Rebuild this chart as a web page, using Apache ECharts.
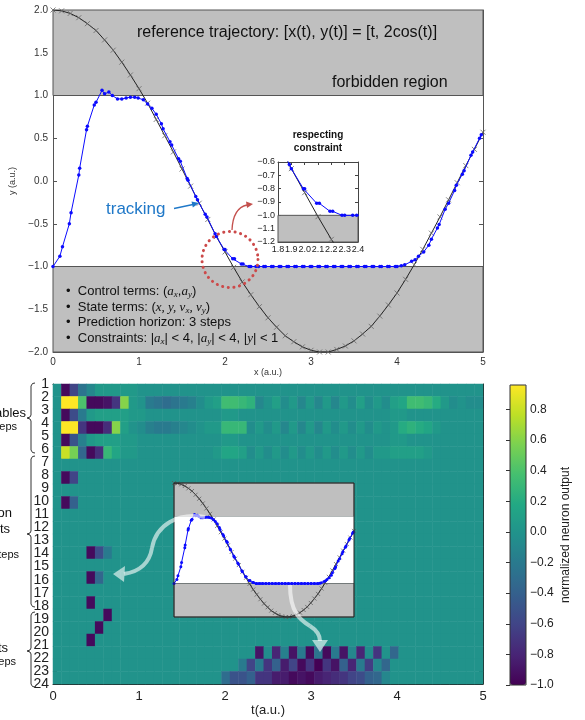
<!DOCTYPE html>
<html><head><meta charset="utf-8">
<script src="https://cdn.jsdelivr.net/npm/echarts@6/dist/echarts.min.js"></script>
<style>html,body{margin:0;padding:0;background:#fff}#c{width:585px;height:720px}</style>
</head><body><div id="c"></div>
<script>
// ---------------- DATA ----------------
// reference trajectory samples (t, 2cos t)
const refT = [0.0,0.1,0.2,0.3,0.4,0.5,0.6,0.7,0.8,0.9,1.0,1.1,1.2,1.3,1.4,1.5,1.6,1.7,1.8,1.9,2.0,2.1,2.2,2.3,2.4,2.5,2.6,2.7,2.8,2.9,3.0,3.1,3.2,3.3,3.4,3.5,3.6,3.7,3.8,3.9,4.0,4.1,4.2,4.3,4.4,4.5,4.6,4.7,4.8,4.9,5.0];
const refY = [2.00,1.99,1.96,1.91,1.84,1.76,1.65,1.53,1.39,1.24,1.08,0.91,0.72,0.53,0.34,0.14,-0.06,-0.26,-0.45,-0.65,-0.83,-1.01,-1.18,-1.33,-1.47,-1.60,-1.71,-1.81,-1.88,-1.94,-1.98,-2.00,-2.00,-1.97,-1.93,-1.87,-1.79,-1.70,-1.58,-1.45,-1.31,-1.15,-0.98,-0.80,-0.61,-0.42,-0.22,-0.02,0.18,0.37,0.57];
// tracking (blue) samples
const trackX = [0.00,0.08,0.11,0.19,0.21,0.30,0.31,0.39,0.40,0.48,0.50,0.57,0.60,0.65,0.69,0.75,0.80,0.85,0.90,0.95,0.99,
  1.05,1.10,1.15,1.20,1.26,1.28,1.36,1.38,1.46,1.48,1.56,1.57,1.66,1.68,1.77,1.79,
  1.885,1.90,1.99,2.00,2.09,2.11,2.19,2.21,2.28,2.30,2.36,2.39,
  2.45,2.47,2.54,2.56,2.63,2.65,2.72,2.74,2.81,2.83,2.90,2.92,2.99,3.01,3.08,3.10,3.17,3.19,3.26,3.28,3.35,3.37,3.44,3.46,3.53,3.55,3.62,3.64,3.71,3.73,3.80,3.82,3.89,3.91,3.98,4.00,
  4.05,4.09,4.17,4.21,4.25,4.31,4.37,4.40,4.47,4.49,4.56,4.60,4.67,4.69,4.76,4.78,4.86,4.88,4.96,4.98];
const trackY = [-1.00,-0.88,-0.77,-0.50,-0.37,0.07,0.15,0.60,0.64,0.89,0.92,1.06,1.02,1.04,1.00,0.96,0.96,0.97,0.98,0.98,0.97,
  0.95,0.90,0.85,0.78,0.67,0.61,0.46,0.42,0.26,0.23,0.03,0.01,-0.18,-0.22,-0.39,-0.42,
  -0.618,-0.65,-0.80,-0.80,-0.91,-0.91,-0.97,-0.97,-1.0,-1.0,-1.0,-1.0,
  -1.0,-1.0,-1.0,-1.0,-1.0,-1.0,-1.0,-1.0,-1.0,-1.0,-1.0,-1.0,-1.0,-1.0,-1.0,-1.0,-1.0,-1.0,-1.0,-1.0,-1.0,-1.0,-1.0,-1.0,-1.0,-1.0,-1.0,-1.0,-1.0,-1.0,-1.0,-1.0,-1.0,-1.0,-1.0,-1.0,
  -0.99,-0.98,-0.94,-0.92,-0.88,-0.83,-0.75,-0.68,-0.55,-0.51,-0.33,-0.26,-0.11,-0.05,0.08,0.12,0.30,0.34,0.50,0.54];
// forbidden bands (y ranges)
const forbiddenBands = [[1, 2], [-2, -1]];
const insetForbidden = [[-1.2, -1.0]];
// heat map: 24 neuron rows x 51 time columns (t = 0 .. 5)
const rowLabels = ['1','2','3','4','5','6','7','8','9','10','11','12','13','14','15','16','17','18','19','20','21','22','23','24'];
const heatRows = [
 [0,-0.95,-0.6,-0.25,-0.1,0.05,0.05,0.05,0.05,0.05, 0,0,0,0,0,0,0,0,0,0, 0,0,0,0,0,0,0,0,0,0, 0,0,0,0,0,0,0,0,0,0, 0,0,0,0,0,0,0,0,0,0, 0],
 [0,0.96,0.96,0.4,-0.95,-0.95,-0.9,-0.7,0.6,0.05, 0,-0.2,-0.25,-0.3,-0.25,-0.2,-0.15,-0.05,0.05,0.1, 0.35,0.35,0.3,0.25,-0.1,0,0.1,-0.05,0.05,-0.1, 0.05,-0.1,0.05,-0.1,0.05,-0.05,0.1,-0.05,0.05,-0.05, 0.1,0.15,0.35,0.35,0.3,0.2,0.05,-0.05,0,-0.05, -0.05],
 [0,-0.95,-0.55,-0.2,0.05,0.1,0.1,0.1,0.1,0.05, 0.05,0,0,0,0,0,0,0,0,0, 0.05,0.05,0,0,0,0,0,0,0,0, 0,0,0,0,0,0,0,0,0,0, 0.05,0.05,0,0,0,0,0,0,0,0, 0],
 [0,0.96,0.96,-0.7,-0.95,-0.95,-0.75,0.6,0.1,0, -0.05,-0.15,-0.2,-0.2,-0.15,-0.1,-0.05,0,0.05,0.05, 0.3,0.3,0.3,-0.05,0.05,-0.05,0.05,-0.1,0.05,-0.1, 0.05,-0.1,0.05,-0.05,0.05,-0.05,0.05,-0.05,0.05,0, 0.05,0.2,0.25,0.2,0.15,0.05,0,0,0,0, 0],
 [0,-0.95,-0.5,-0.15,0.05,0.1,0.1,0.1,0.05,0.05, 0,0,0,0,0,0,0,0,0,0, 0.05,0.05,0,0,0,0,0,0,0,0, 0,0,0,0,0,0,0,0,0,0, 0.05,0.05,0,0,0,0,0,0,0,0, 0],
 [0,0.8,0.55,-0.35,-0.95,-0.75,0.3,0.15,0.05,0.05, 0,0,0,0,0,0,0,0,0,0.05, 0.15,0.15,0.1,-0.05,0.05,-0.05,0.05,-0.05,0.05,-0.05, 0.05,-0.05,0.05,-0.05,0.05,-0.05,0.05,-0.05,0.05,0.05, 0.1,0.1,0.1,0.1,0.05,0,0,0,0,0, 0],
 [0,0,0,0,0,0,0,0,0,0, 0,0,0,0,0,0,0,0,0,0, 0,0,0,0,0,0,0,0,0,0, 0,0,0,0,0,0,0,0,0,0, 0,0,0,0,0,0,0,0,0,0, 0],
 [0,-0.95,-0.6,0,0,0,0,0,0,0, 0,0,0,0,0,0,0,0,0,0, 0,0,0,0,0,0,0,0,0,0, 0,0,0,0,0,0,0,0,0,0, 0,0,0,0,0,0,0,0,0,0, 0],
 [0,0,0,0,0,0,0,0,0,0, 0,0,0,0,0,0,0,0,0,0, 0,0,0,0,0,0,0,0,0,0, 0,0,0,0,0,0,0,0,0,0, 0,0,0,0,0,0,0,0,0,0, 0],
 [0,-0.95,-0.4,0,0,0,0,0,0,0, 0,0,0,0,0,0,0,0,0,0, 0,0,0,0,0,0,0,0,0,0, 0,0,0,0,0,0,0,0,0,0, 0,0,0,0,0,0,0,0,0,0, 0],
 [0,0,0,0,0,0,0,0,0,0, 0,0,0,0,0,0,0,0,0,0, 0,0,0,0,0,0,0,0,0,0, 0,0,0,0,0,0,0,0,0,0, 0,0,0,0,0,0,0,0,0,0, 0],
 [0,0,0,0,0,0,0,0,0,0, 0,0,0,0,0,0,0,0,0,0, 0,0,0,0,0,0,0,0,0,0, 0,0,0,0,0,0,0,0,0,0, 0,0,0,0,0,0,0,0,0,0, 0],
 [0,0,0,0,0,0,0,0,0,0, 0,0,0,0,0,0,0,0,0,0, 0,0,0,0,0,0,0,0,0,0, 0,0,0,0,0,0,0,0,0,0, 0,0,0,0,0,0,0,0,0,0, 0],
 [0,0,0,0,-0.95,-0.55,-0.2,0,0,0, 0,0,0,0,0,0,0,0,0,0, 0,0,0,0,0,0,0,0,0,0, 0,0,0,0,0,0,0,0,0,0, 0,0,0,0,0,0,0,0,0,0, 0],
 [0,0,0,0,0,0,0,0,0,0, 0,0,0,0,0,0,0,0,0,0, 0,0,0,0,0,0,0,0,0,0, 0,0,0,0,0,0,0,0,0,0, 0,0,0,0,0,0,0,0,0,0, 0],
 [0,0,0,0,-0.95,-0.35,0,0,0,0, 0,0,0,0,0,0,0,0,0,0, 0,0,0,0,0,0,0,0,0,0, 0,0,0,0,0,0,0,0,0,0, 0,0,0,0,0,0,0,0,0,0, 0],
 [0,0,0,0,0,0,0,0,0,0, 0,0,0,0,0,0,0,0,0,0, 0,0,0,0,0,0,0,0,0,0, 0,0,0,0,0,0,0,0,0,0, 0,0,0,0,0,0,0,0,0,0, 0],
 [0,0,0,0,-0.95,0,0,0,0,0, 0,0,0,0,0,0,0,0,0,0, 0,0,0,0,0,0,0,0,0,0, 0,0,0,0,0,0,0,0,0,0, 0,0,0,0,0,0,0,0,0,0, 0],
 [0,0,0,0,0,0,-0.95,0,0,0, 0,0,0,0,0,0,0,0,0,0, 0,0,0,0,0,0,0,0,0,0, 0,0,0,0,0,0,0,0,0,0, 0,0,0,0,0,0,0,0,0,0, 0],
 [0,0,0,0,0,-0.95,0,0,0,0, 0,0,0,0,0,0,0,0,0,0, 0,0,0,0,0,0,0,0,0,0, 0,0,0,0,0,0,0,0,0,0, 0,0,0,0,0,0,0,0,0,0, 0],
 [0,0,0,0,-0.95,0,0,0,0,0, 0,0,0,0,0,0,0,0,0,0, 0,0,0,0,0,0,0,0,0,0, 0,0,0,0,0,0,0,0,0,0, 0,0,0,0,0,0,0,0,0,0, 0],
 [0,0,0,0,0,0,0,0,0,0, 0,0,0,0,0,0,0,0,0,0, 0,0,0,0,-0.9,-0.05,-0.8,-0.15,-0.9,-0.2, -0.95,-0.25,-0.95,-0.2,-0.9,-0.1,-0.8,-0.05,-0.7,0, -0.35,0,0,0,0,0,0,0,0,0, 0],
 [0,0,0,0,0,0,0,0,0,0, 0,0,0,0,0,0,0,0,0,0, 0,0,-0.2,-0.6,-0.2,-0.7,-0.4,-0.85,-0.6,-0.95, -0.7,-1,-0.7,-0.9,-0.4,-0.8,-0.2,-0.65,-0.1,-0.35, 0,0,0,0,0,0,0,0,0,0, 0],
 [0,0,0,0,0,0,0,0,0,0, 0,0,0,0,0,0,0,0,0,0, -0.3,-0.5,-0.5,-0.4,-0.7,-0.7,-0.85,-0.85,-0.95,-0.9, -0.95,-0.85,-0.8,-0.75,-0.7,-0.6,-0.55,-0.4,-0.35,-0.1, 0,0,0,0,0,0,0,0,0,0, 0]
];
const colorRange = [-1.0, 0.96];
const viridis = ['#440154','#482475','#414487','#355f8d','#2a788e','#21918c','#22a884','#44bf70','#7ad151','#bddf26','#fde725'];

// ---------------- BUILD ----------------
const FONT = 'Liberation Sans';
const fmt = d => v => { if (Math.abs(v) < 1e-9) v = 0; return Number(v).toFixed(d).replace('-', '\u2212'); };
const refData = refT.map((t, i) => [t, refY[i]]);
const trackData = trackX.map((x, i) => [x, trackY[i]]);
const heatData = [];
heatRows.forEach((row, r) => row.forEach((v, c) => heatData.push([c, r, v])));
const X_PATH = 'path://M0,0L10,10M10,0L0,10';
const GRAY = '#bfbfbf';
const BLUE = '#0b0bff';

// heat map layout; row labels sit on 24 evenly spaced ticks from the top edge to the bottom edge
const HM = {left: 53, top: 384, width: 430, height: 300};
const labelStep = HM.height / (rowLabels.length - 1);

function valAxis(o) {
  const base = {
    type: 'value', axisLine: {show: true, onZero: false, lineStyle: {color: '#555', width: 1}},
    axisTick: {show: true, inside: true, length: 4, lineStyle: {color: '#555'}},
    axisLabel: {show: true, color: '#333', fontSize: 10, fontFamily: FONT},
    splitLine: {show: false}
  };
  return Object.assign(base, o);
}
const bandArea = (bands, extra) => bands.map(b => [Object.assign({yAxis: b[0]}, extra || {}), {yAxis: b[1]}]);
function brace(top, mid, bot) {
  return {type: 'polyline', z: 100, shape: {points: [[35, top], [32.5, top + 0.5], [31, top + 3], [31, mid - 3], [30, mid - 1], [27, mid], [30, mid + 1], [31, mid + 3], [31, bot - 3], [32.5, bot - 0.5], [35, bot]]},
    style: {fill: 'none', stroke: '#333', lineWidth: 1}};
}
const W = 'rgba(255,255,255,0.6)';
// label-only axes (odd / even row numbers) so that neighbouring labels never collide
const rowLabelAxis = (gridIndex, offset) => ({type: 'value', gridIndex, min: 0, max: rowLabels.length - 2, interval: 2, inverse: true, position: 'left',
  axisLine: {show: false}, axisTick: {show: false}, splitLine: {show: false},
  axisLabel: {color: '#222', fontSize: 14, margin: 4, showMinLabel: true, showMaxLabel: true, formatter: v => rowLabels[Math.round(v) + offset] || ''}});

const option = {
  animation: false,
  textStyle: {fontFamily: FONT},
  grid: [
    {left: 53, top: 10, width: 430, height: 342},
    {left: 278, top: 162, width: 80, height: 80},
    {left: HM.left, top: HM.top, width: HM.width, height: HM.height},
    {left: 174, top: 483, width: 180, height: 134, show: true, z: 20, backgroundColor: 'rgba(0,0,0,0)', borderColor: '#222', borderWidth: 1},
    {left: 510, top: 385, width: 16, height: 300, show: true, z: 20, backgroundColor: 'rgba(0,0,0,0)', borderColor: '#333', borderWidth: 1},
    {left: HM.left, top: HM.top, width: HM.width, height: HM.height - labelStep},
    {left: HM.left, top: HM.top + labelStep, width: HM.width, height: HM.height - labelStep}
  ],
  xAxis: [
    valAxis({gridIndex: 0, min: 0, max: 5, interval: 1, position: 'bottom', axisLabel: {color: '#333', fontSize: 10, margin: 5},
      name: 'x (a.u.)', nameLocation: 'middle', nameGap: 16, nameTextStyle: {fontSize: 9, color: '#333'}}),
    valAxis({gridIndex: 0, min: 0, max: 5, interval: 1, position: 'top', axisLabel: {show: false}}),
    valAxis({gridIndex: 1, min: 1.8, max: 2.4, interval: 0.1, position: 'bottom', axisLine: {show: true, onZero: false, lineStyle: {color: '#444'}},
      axisTick: {inside: true, length: 3, lineStyle: {color: '#444'}}, axisLabel: {color: '#222', fontSize: 9, margin: 3, formatter: fmt(1)}}),
    valAxis({gridIndex: 1, min: 1.8, max: 2.4, interval: 0.1, position: 'top', axisLine: {show: true, onZero: false, lineStyle: {color: '#444'}},
      axisTick: {inside: true, length: 3, lineStyle: {color: '#444'}}, axisLabel: {show: false}}),
    {type: 'category', gridIndex: 2, data: refT.map(String), show: false},
    valAxis({gridIndex: 2, min: 0, max: 5, interval: 1, position: 'bottom', axisLine: {show: true, onZero: false, lineStyle: {color: '#222'}},
      axisTick: {inside: true, length: 5, lineStyle: {color: '#222'}}, axisLabel: {color: '#222', fontSize: 13, margin: 6},
      name: 't(a.u.)', nameLocation: 'middle', nameGap: 20, nameTextStyle: {fontSize: 13, color: '#222'}}),
    valAxis({gridIndex: 2, min: 0, max: 5, interval: 1, position: 'top', axisLine: {show: true, onZero: false, lineStyle: {color: '#222'}},
      axisTick: {inside: true, length: 5, lineStyle: {color: '#222'}}, axisLabel: {show: false}}),
    {type: 'value', gridIndex: 3, min: 0, max: 5, show: false},
    {type: 'value', gridIndex: 4, min: 0, max: 1, show: false},
    {type: 'value', gridIndex: 5, min: 0, max: 1, show: false},
    {type: 'value', gridIndex: 6, min: 0, max: 1, show: false}
  ],
  yAxis: [
    valAxis({gridIndex: 0, min: -2, max: 2, interval: 0.5, position: 'left', axisLabel: {color: '#333', fontSize: 10, margin: 5, formatter: fmt(1)},
      name: 'y (a.u.)', nameLocation: 'middle', nameGap: 26, nameTextStyle: {fontSize: 9, color: '#333'}}),
    valAxis({gridIndex: 0, min: -2, max: 2, interval: 0.5, position: 'right', axisLabel: {show: false}}),
    valAxis({gridIndex: 1, min: -1.2, max: -0.6, interval: 0.1, position: 'left', axisLine: {show: true, onZero: false, lineStyle: {color: '#444'}},
      axisTick: {inside: true, length: 3, lineStyle: {color: '#444'}}, axisLabel: {color: '#222', fontSize: 9, margin: 3, formatter: fmt(1)}}),
    valAxis({gridIndex: 1, min: -1.2, max: -0.6, interval: 0.1, position: 'right', axisLine: {show: true, onZero: false, lineStyle: {color: '#444'}},
      axisTick: {inside: true, length: 3, lineStyle: {color: '#444'}}, axisLabel: {show: false}}),
    {type: 'category', gridIndex: 2, data: rowLabels, inverse: true, show: false},
    valAxis({gridIndex: 2, min: 0, max: 23, interval: 1, inverse: true, position: 'left', axisLine: {show: true, onZero: false, lineStyle: {color: '#222'}},
      axisTick: {inside: true, length: 4, lineStyle: {color: '#222'}}, axisLabel: {show: false}}),
    valAxis({gridIndex: 2, min: 0, max: 23, interval: 1, inverse: true, position: 'right', axisLine: {show: true, onZero: false, lineStyle: {color: '#222'}},
      axisTick: {inside: true, length: 4, lineStyle: {color: '#222'}}, axisLabel: {show: false}}),
    {type: 'value', gridIndex: 3, min: -2, max: 2, show: false},
    valAxis({gridIndex: 4, min: colorRange[0], max: colorRange[1], interval: 0.2, position: 'right', axisLine: {show: false},
      axisTick: {inside: true, length: 4, lineStyle: {color: '#333'}},
      axisLabel: {color: '#222', fontSize: 12, margin: 4, showMaxLabel: false, formatter: fmt(1)}}),
    rowLabelAxis(5, 0),
    rowLabelAxis(6, 1)
  ],
  visualMap: {
    type: 'continuous', seriesIndex: 4, min: colorRange[0], max: colorRange[1], calculable: false, hoverLink: false,
    orient: 'vertical', left: 510, top: 385, itemWidth: 16, itemHeight: 300, padding: 0,
    inRange: {color: viridis}
  },
  series: [
    {type: 'line', xAxisIndex: 0, yAxisIndex: 0, data: refData, symbol: X_PATH, symbolSize: 5, z: 3,
      lineStyle: {color: '#222', width: 1}, itemStyle: {color: '#666', borderColor: '#666', borderWidth: 0.8},
      markArea: {silent: true, z: 1, itemStyle: {color: GRAY, borderColor: '#555', borderWidth: 1}, data: bandArea(forbiddenBands)}},
    {type: 'line', xAxisIndex: 0, yAxisIndex: 0, data: trackData, symbol: 'circle', symbolSize: 3.5, z: 4,
      lineStyle: {color: BLUE, width: 1}, itemStyle: {color: BLUE, borderWidth: 0}},
    {type: 'line', xAxisIndex: 2, yAxisIndex: 2, data: refData, symbol: X_PATH, symbolSize: 5, z: 3, clip: true,
      lineStyle: {color: '#222', width: 1}, itemStyle: {color: '#666', borderColor: '#666', borderWidth: 0.8},
      markArea: {silent: true, z: 1, itemStyle: {color: GRAY, borderColor: '#555', borderWidth: 1}, data: bandArea(insetForbidden)}},
    {type: 'line', xAxisIndex: 2, yAxisIndex: 2, data: trackData, symbol: 'circle', symbolSize: 3.5, z: 4, clip: true,
      lineStyle: {color: BLUE, width: 1}, itemStyle: {color: BLUE, borderWidth: 0}},
    {type: 'heatmap', xAxisIndex: 4, yAxisIndex: 4, data: heatData, z: 2, emphasis: {disabled: true}, itemStyle: {borderWidth: 0}},
    {type: 'line', xAxisIndex: 7, yAxisIndex: 7, data: refData, symbol: X_PATH, symbolSize: 4, z: 12,
      lineStyle: {color: '#222', width: 1}, itemStyle: {color: '#555', borderColor: '#555', borderWidth: 0.7},
      markArea: {silent: true, z: 8, data: [
        [{yAxis: 1, itemStyle: {color: GRAY, borderColor: '#666', borderWidth: 0.8}}, {yAxis: 2}],
        [{yAxis: -1, itemStyle: {color: '#ffffff', borderWidth: 0}}, {yAxis: 1}],
        [{yAxis: -2, itemStyle: {color: GRAY, borderColor: '#666', borderWidth: 0.8}}, {yAxis: -1}]
      ]}},
    {type: 'line', xAxisIndex: 7, yAxisIndex: 7, data: trackData, symbol: 'circle', symbolSize: 3, z: 13,
      lineStyle: {color: BLUE, width: 1}, itemStyle: {color: BLUE, borderWidth: 0}}
  ],
  graphic: [
    {type: 'text', z: 100, style: {text: 'reference trajectory: [x(t), y(t)] = [t, 2cos(t)]', x: 137, y: 33, fill: '#111', font: '16px "Liberation Sans"', textVerticalAlign: 'middle'}},
    {type: 'text', z: 100, style: {text: 'forbidden region', x: 332, y: 83, fill: '#111', font: '16px "Liberation Sans"', textVerticalAlign: 'middle'}},
    {type: 'text', z: 100, style: {text: 'tracking', x: 106, y: 209, fill: '#1f78c8', font: '17px "Liberation Sans"', textVerticalAlign: 'middle'}},
    {type: 'line', z: 100, shape: {x1: 174, y1: 208.5, x2: 193, y2: 204.5}, style: {stroke: '#1f78c8', lineWidth: 1.3}},
    {type: 'polygon', z: 100, shape: {points: [[199, 203], [192.8, 207.4], [191.5, 201.6]]}, style: {fill: '#1f78c8'}},
    {type: 'circle', z: 100, shape: {cx: 230, cy: 259.5, r: 28}, style: {fill: 'none', stroke: '#cc4a4a', lineWidth: 3, lineDash: [0.1, 5.6], lineCap: 'round'}},
    {type: 'bezierCurve', z: 100, shape: {x1: 232, y1: 230, cpx1: 233, cpy1: 208, x2: 247, y2: 205}, style: {fill: 'none', stroke: '#c4504d', lineWidth: 1.3}},
    {type: 'polygon', z: 100, shape: {points: [[253, 204], [246, 201.5], [247, 208]]}, style: {fill: '#c4504d'}},
    {type: 'text', z: 100, style: {
      text: '\u2022  Control terms: ({m|a}{s|x},{m|a}{s|y})\n\u2022  State terms: ({m|x, y, v}{s|x}{m|, v}{s|y})\n\u2022  Prediction horizon: 3 steps\n\u2022  Constraints: |{m|a}{s|x}| < 4, |{m|a}{s|y}| < 4, |{m|y}| < 1',
      x: 66, y: 284, fill: '#111', font: '13px "Liberation Sans"', lineHeight: 15.5,
      rich: {
        m: {fontFamily: 'Liberation Serif', fontStyle: 'italic', fontSize: 13, fill: '#111', lineHeight: 15.5},
        s: {fontFamily: 'Liberation Serif', fontStyle: 'italic', fontSize: 9, fill: '#111', lineHeight: 9, verticalAlign: 'bottom'}
      }}},
    {type: 'text', z: 100, style: {text: 'respecting', x: 318, y: 135, fill: '#111', font: 'bold 10px "Liberation Sans"', textAlign: 'center', textVerticalAlign: 'middle'}},
    {type: 'text', z: 100, style: {text: 'constraint', x: 318, y: 148, fill: '#111', font: 'bold 10px "Liberation Sans"', textAlign: 'center', textVerticalAlign: 'middle'}},
    // left brace annotations (cut off at the page edge)
    brace(383, 418, 453), brace(456, 534, 607), brace(612, 651, 687),
    {type: 'text', z: 100, style: {text: 'ables', x: 26, y: 413, fill: '#111', font: '13px "Liberation Sans"', textAlign: 'right', textVerticalAlign: 'middle'}},
    {type: 'text', z: 100, style: {text: 'eps', x: 17, y: 427, fill: '#111', font: '11px "Liberation Sans"', textAlign: 'right', textVerticalAlign: 'middle'}},
    {type: 'text', z: 100, style: {text: 'on', x: 12, y: 513, fill: '#111', font: '13px "Liberation Sans"', textAlign: 'right', textVerticalAlign: 'middle'}},
    {type: 'text', z: 100, style: {text: 'ts', x: 10, y: 529, fill: '#111', font: '13px "Liberation Sans"', textAlign: 'right', textVerticalAlign: 'middle'}},
    {type: 'text', z: 100, style: {text: 'teps', x: 19, y: 555, fill: '#111', font: '11px "Liberation Sans"', textAlign: 'right', textVerticalAlign: 'middle'}},
    {type: 'text', z: 100, style: {text: 'ts', x: 8, y: 648, fill: '#111', font: '13px "Liberation Sans"', textAlign: 'right', textVerticalAlign: 'middle'}},
    {type: 'text', z: 100, style: {text: 'eps', x: 16, y: 662, fill: '#111', font: '11px "Liberation Sans"', textAlign: 'right', textVerticalAlign: 'middle'}},
    // white arrows on heat map
    {type: 'bezierCurve', z: 100, shape: {x1: 205, y1: 517, cpx1: 178, cpy1: 512, cpx2: 156, cpy2: 525, x2: 152, y2: 548}, style: {fill: 'none', stroke: W, lineWidth: 4}},
    {type: 'bezierCurve', z: 100, shape: {x1: 152, y1: 548, cpx1: 149, cpy1: 566, cpx2: 137, cpy2: 572, x2: 124, y2: 574}, style: {fill: 'none', stroke: W, lineWidth: 4}},
    {type: 'polygon', z: 100, shape: {points: [[113, 574], [125, 566], [124, 582]]}, style: {fill: W}},
    {type: 'bezierCurve', z: 100, shape: {x1: 290, y1: 585, cpx1: 290, cpy1: 612, cpx2: 300, cpy2: 620, x2: 310, y2: 626}, style: {fill: 'none', stroke: W, lineWidth: 4}},
    {type: 'bezierCurve', z: 100, shape: {x1: 310, y1: 626, cpx1: 318, cpy1: 631, cpx2: 320, cpy2: 636, x2: 320, y2: 641}, style: {fill: 'none', stroke: W, lineWidth: 4}},
    {type: 'polygon', z: 100, shape: {points: [[320, 652], [312, 640], [328, 640]]}, style: {fill: W}},
    // colorbar label
    {type: 'text', z: 100, x: 566, y: 535, rotation: Math.PI / 2, style: {text: 'normalized neuron output', x: 0, y: 0, fill: '#222', font: '12px "Liberation Sans"', textAlign: 'center', textVerticalAlign: 'middle'}}
  ]
};
const chart = echarts.init(document.getElementById('c'), null, {renderer: 'canvas', width: 585, height: 720});
chart.setOption(option);
</script>
</body></html>
